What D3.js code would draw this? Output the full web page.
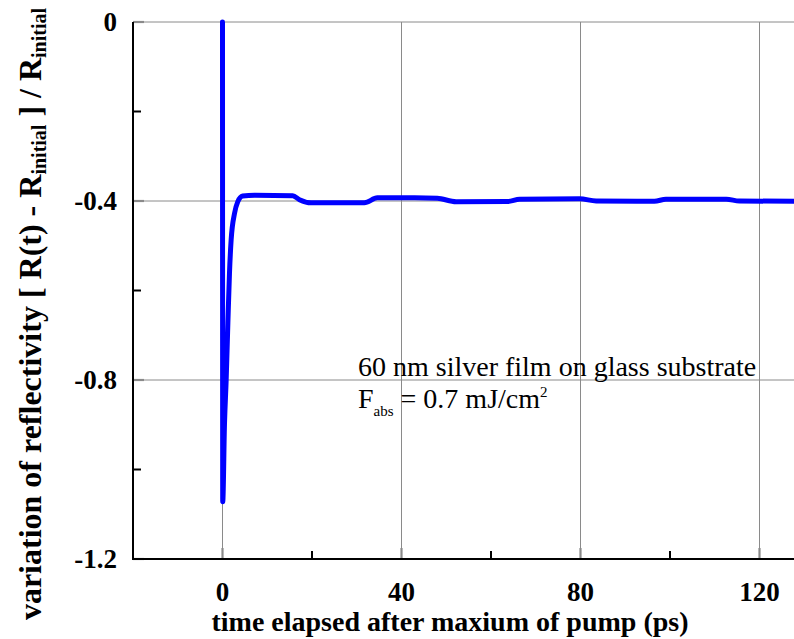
<!DOCTYPE html>
<html>
<head>
<meta charset="utf-8">
<script src="https://cdn.jsdelivr.net/npm/d3@7"></script>
<style>
  html, body { margin: 0; padding: 0; background: #fff; }
  svg { display: block; }
</style>
</head>
<body>
<svg id="chart" width="794" height="639"></svg>
<script>
// ---- data ----
const timePs = [0, 0.05, 0.45, 0.82, 1.2, 1.56, 1.93, 2.7, 3.4, 4.5, 7.2, 15.7, 17.2, 19.8, 31.7, 34.6, 42.9, 48, 52.2, 63.7, 66.4, 79.8, 83.5, 96.5, 99.1, 112.6, 115.5, 130];
const reflVar = [0, -1.072, -0.896, -0.80, -0.673, -0.561, -0.487, -0.427, -0.402, -0.389, -0.387, -0.388, -0.397, -0.404, -0.404, -0.393, -0.393, -0.394, -0.4015, -0.401, -0.396, -0.395, -0.400, -0.4007, -0.396, -0.396, -0.400, -0.4007];
const xMajorTicks = [0, 40, 80, 120];
const xMinorTicks = [20, 60, 100];
const yMajorTicks = [0, -0.4, -0.8, -1.2];
const yMinorTicks = [-0.2, -0.6, -1.0];
const xTickLabels = ["0", "40", "80", "120"];
const yTickLabels = ["0", "-0.4", "-0.8", "-1.2"];

const FONT = "Liberation Serif";
const svg = d3.select("#chart");
const xs = d3.scaleLinear().domain([-20, 130]).range([133, 804.25]);
const ys = d3.scaleLinear().domain([-1.2, 0]).range([559, 22]);

const grid = "#8a8a8a";

// gridlines
svg.append("g").selectAll("line").data(xMajorTicks).join("line")
  .attr("x1", d => xs(d)).attr("x2", d => xs(d))
  .attr("y1", ys(0)).attr("y2", ys(-1.2))
  .attr("stroke", grid).attr("stroke-width", 1);
svg.append("g").selectAll("line").data(yMajorTicks).join("line")
  .attr("x1", xs(-20)).attr("x2", 794)
  .attr("y1", d => ys(d)).attr("y2", d => ys(d))
  .attr("stroke", grid).attr("stroke-width", 1);

// major ticks (gray, inward)
svg.append("g").selectAll("line").data(xMajorTicks).join("line")
  .attr("x1", d => xs(d)).attr("x2", d => xs(d))
  .attr("y1", ys(-1.2)).attr("y2", ys(-1.2) - 11)
  .attr("stroke", grid).attr("stroke-width", 2.2);
svg.append("g").selectAll("line").data(yMajorTicks).join("line")
  .attr("x1", xs(-20)).attr("x2", xs(-20) + 11)
  .attr("y1", d => ys(d)).attr("y2", d => ys(d))
  .attr("stroke", grid).attr("stroke-width", 2.2);
// minor ticks (black, inward)
svg.append("g").selectAll("line").data(xMinorTicks).join("line")
  .attr("x1", d => xs(d)).attr("x2", d => xs(d))
  .attr("y1", ys(-1.2)).attr("y2", ys(-1.2) - 8)
  .attr("stroke", "#000").attr("stroke-width", 2);
svg.append("g").selectAll("line").data(yMinorTicks).join("line")
  .attr("x1", xs(-20)).attr("x2", xs(-20) + 8)
  .attr("y1", d => ys(d)).attr("y2", d => ys(d))
  .attr("stroke", "#000").attr("stroke-width", 2);

// axes lines
svg.append("line").attr("x1", xs(-20)).attr("x2", xs(-20))
  .attr("y1", ys(0)).attr("y2", ys(-1.2) + 1).attr("stroke", "#000").attr("stroke-width", 2);
svg.append("line").attr("x1", xs(-20) - 1).attr("x2", 794)
  .attr("y1", ys(-1.2)).attr("y2", ys(-1.2)).attr("stroke", "#000").attr("stroke-width", 2);

// data curve
const curve = d3.line().x((d, i) => xs(timePs[i])).y(d => ys(d)).curve(d3.curveMonotoneX);
svg.append("path").datum(reflVar)
  .attr("d", curve).attr("fill", "none")
  .attr("stroke", "#0000ff").attr("stroke-width", 5)
  .attr("stroke-linejoin", "round").attr("stroke-linecap", "round");

// tick labels
xMajorTicks.forEach((d, i) => {
  svg.append("text").attr("x", xs(d)).attr("y", 601)
    .attr("text-anchor", "middle")
    .attr("font-family", FONT).attr("font-weight", "bold").attr("font-size", 27)
    .text(xTickLabels[i]);
});
yMajorTicks.forEach((d, i) => {
  svg.append("text").attr("x", 117).attr("y", ys(d) + 9)
    .attr("text-anchor", "end")
    .attr("font-family", FONT).attr("font-weight", "bold").attr("font-size", 27)
    .text(yTickLabels[i]);
});

// axis titles
svg.append("text").attr("x", 450).attr("y", 631)
  .attr("text-anchor", "middle")
  .attr("font-family", FONT).attr("font-weight", "bold").attr("font-size", 28)
  .text("time elapsed after maxium of pump (ps)");

const yt = svg.append("text")
  .attr("transform", "translate(41,314) rotate(-90)")
  .attr("text-anchor", "middle")
  .attr("font-family", FONT).attr("font-weight", "bold").attr("font-size", 32);
yt.append("tspan").text("variation of reflectivity [ R(t) - R");
yt.append("tspan").attr("font-size", 20).attr("dy", 5).text("initial");
yt.append("tspan").attr("dy", -5).text(" ] / R");
yt.append("tspan").attr("font-size", 20).attr("dy", 5).text("initial");

// annotation
svg.append("text").attr("x", 358).attr("y", 376)
  .attr("font-family", FONT).attr("font-size", 28)
  .text("60 nm silver film on glass substrate");
const a2 = svg.append("text").attr("x", 358).attr("y", 408)
  .attr("font-family", FONT).attr("font-size", 28);
a2.append("tspan").text("F");
a2.append("tspan").attr("font-size", 15).attr("dy", 8).text("abs");
a2.append("tspan").attr("dy", -8).text(" = 0.7 mJ/cm");
a2.append("tspan").attr("font-size", 15).attr("dy", -11).text("2");
</script>
</body>
</html>
